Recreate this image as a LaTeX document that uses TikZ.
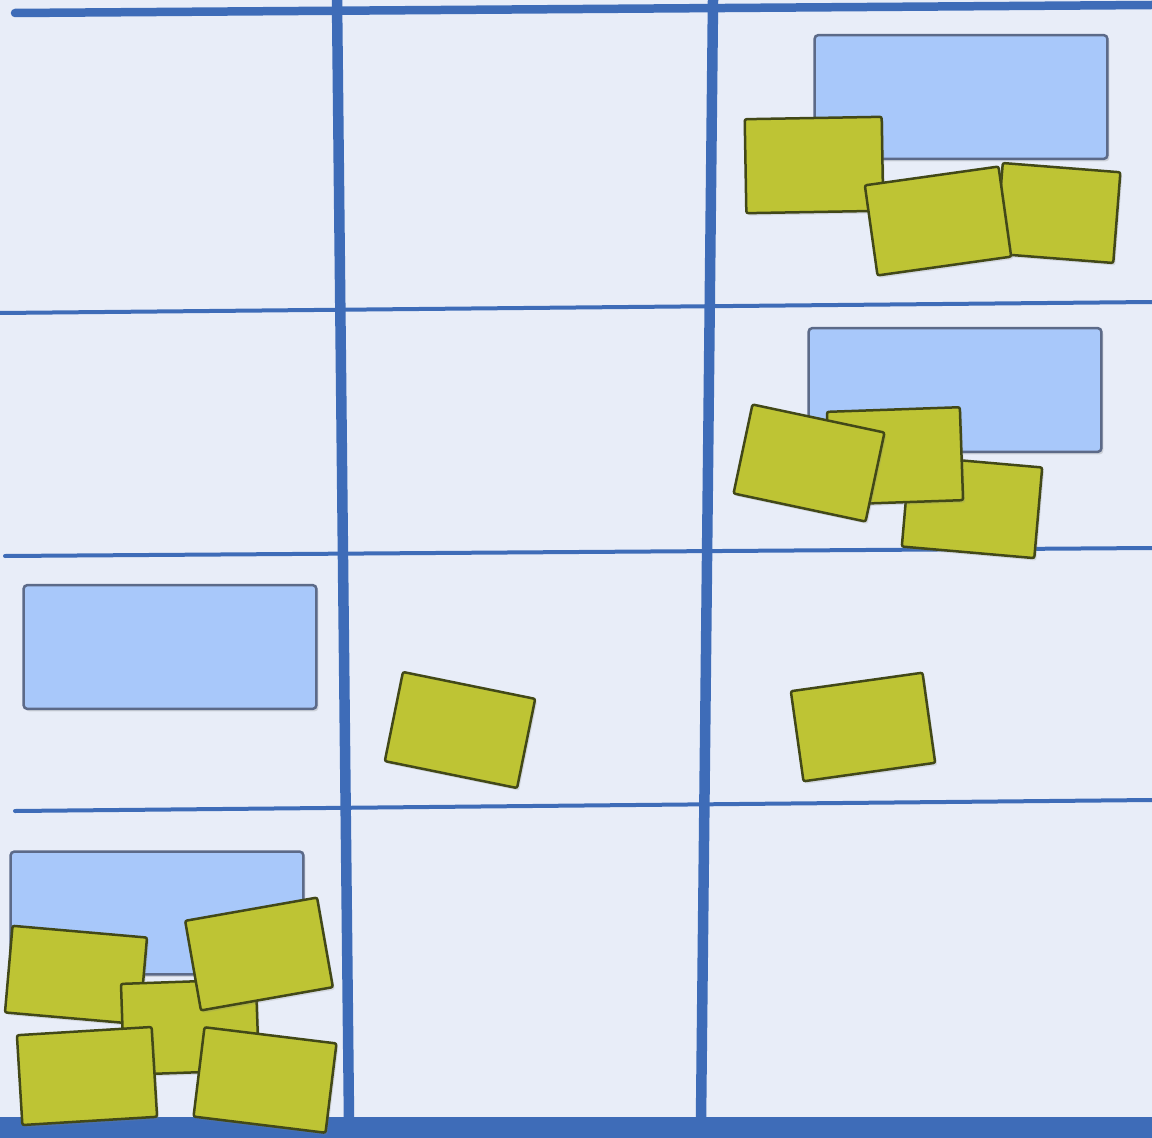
\documentclass[tikz,border=0pt]{standalone}
\usetikzlibrary{shadows}

\definecolor{boardbg}{RGB}{232,237,248}
\definecolor{lanecol}{RGB}{62,108,184}
\definecolor{storyfill}{RGB}{168,200,250}
\definecolor{storyline}{RGB}{92,106,136}
\definecolor{taskfill}{RGB}{190,196,52}
\definecolor{taskline}{RGB}{66,72,24}

\begin{document}
\begin{tikzpicture}[x=0.02cm, y=-0.02cm,
  lane/.style={draw=lanecol, line width=0.08cm, line cap=round},
  mainlane/.style={draw=lanecol, line width=0.21cm},
  story/.style={draw=storyline, fill=storyfill, line width=0.05cm, rounded corners=0.08cm,
    inner sep=0pt, minimum width=5.86cm, minimum height=2.48cm,
    drop shadow={opacity=0.25, shadow xshift=0.04cm, shadow yshift=-0.05cm}},
  task/.style={draw=taskline, fill=taskfill, line width=0.05cm, rounded corners=0.04cm,
    inner sep=0pt, minimum width=2.70cm, minimum height=1.82cm,
    drop shadow={opacity=0.2, shadow xshift=0.04cm, shadow yshift=-0.05cm}}]

  % -- Board --
  \useasboundingbox (0,0) rectangle (1152,1138);
  \fill[boardbg] (0,0) rectangle (1152,1138);

  % -- Row Lines --
  \draw[lane, line width=0.17cm] (15,13) -- (1152,5);
  \draw[lane] (0,313) -- (1152,302);
  \draw[lane] (5,556) -- (1152,548);
  \draw[lane] (15,811) -- (1152,800);
  \fill[lanecol] (0,1117) rectangle (1152,1138);

  % -- Column Lines --
  \draw[mainlane] (337,0) -- (349,1120);
  \draw[mainlane] (713,0) -- (701,1120);

  % -- Stories --
  \node[story] (story1) at (961,97) {};
  \node[story] (story2) at (955,390) {};
  \node[story] (story3) at (170,647) {};
  \node[story, minimum height=2.46cm] (story4) at (157,913) {};

  % -- Tasks: first story --
  \node[task, rotate=1, minimum width=2.74cm, minimum height=1.88cm] (task1a) at (814,165) {};
  \node[task, rotate=-4.5, minimum width=2.36cm] (task1c) at (1058,213) {};
  \node[task, rotate=8] (task1b) at (938,221) {};

  % -- Tasks: second story --
  \node[task, rotate=-5, minimum width=2.66cm] (task2c) at (972,507) {};
  \node[task, rotate=2, minimum width=2.66cm, minimum height=1.86cm] (task2b) at (895,456) {};
  \node[task, rotate=-12] (task2a) at (809,463) {};

  % -- Tasks: third row --
  \node[task, rotate=-11.5] (task3a) at (460,730) {};
  \node[task, rotate=8, minimum width=2.66cm] (task3b) at (863,727) {};

  % -- Tasks: fourth story --
  \node[task, rotate=-5, minimum height=1.74cm] (task4a) at (76,975) {};
  \node[task, rotate=2] (task4b) at (190,1027) {};
  \node[task, rotate=3.5, minimum height=1.80cm] (task4c) at (87,1076) {};
  \node[task, rotate=10, minimum width=2.68cm] (task4d) at (259,954) {};
  \node[task, rotate=-7, minimum width=2.66cm, minimum height=1.80cm] (task4e) at (265,1080) {};

\end{tikzpicture}
\end{document}
